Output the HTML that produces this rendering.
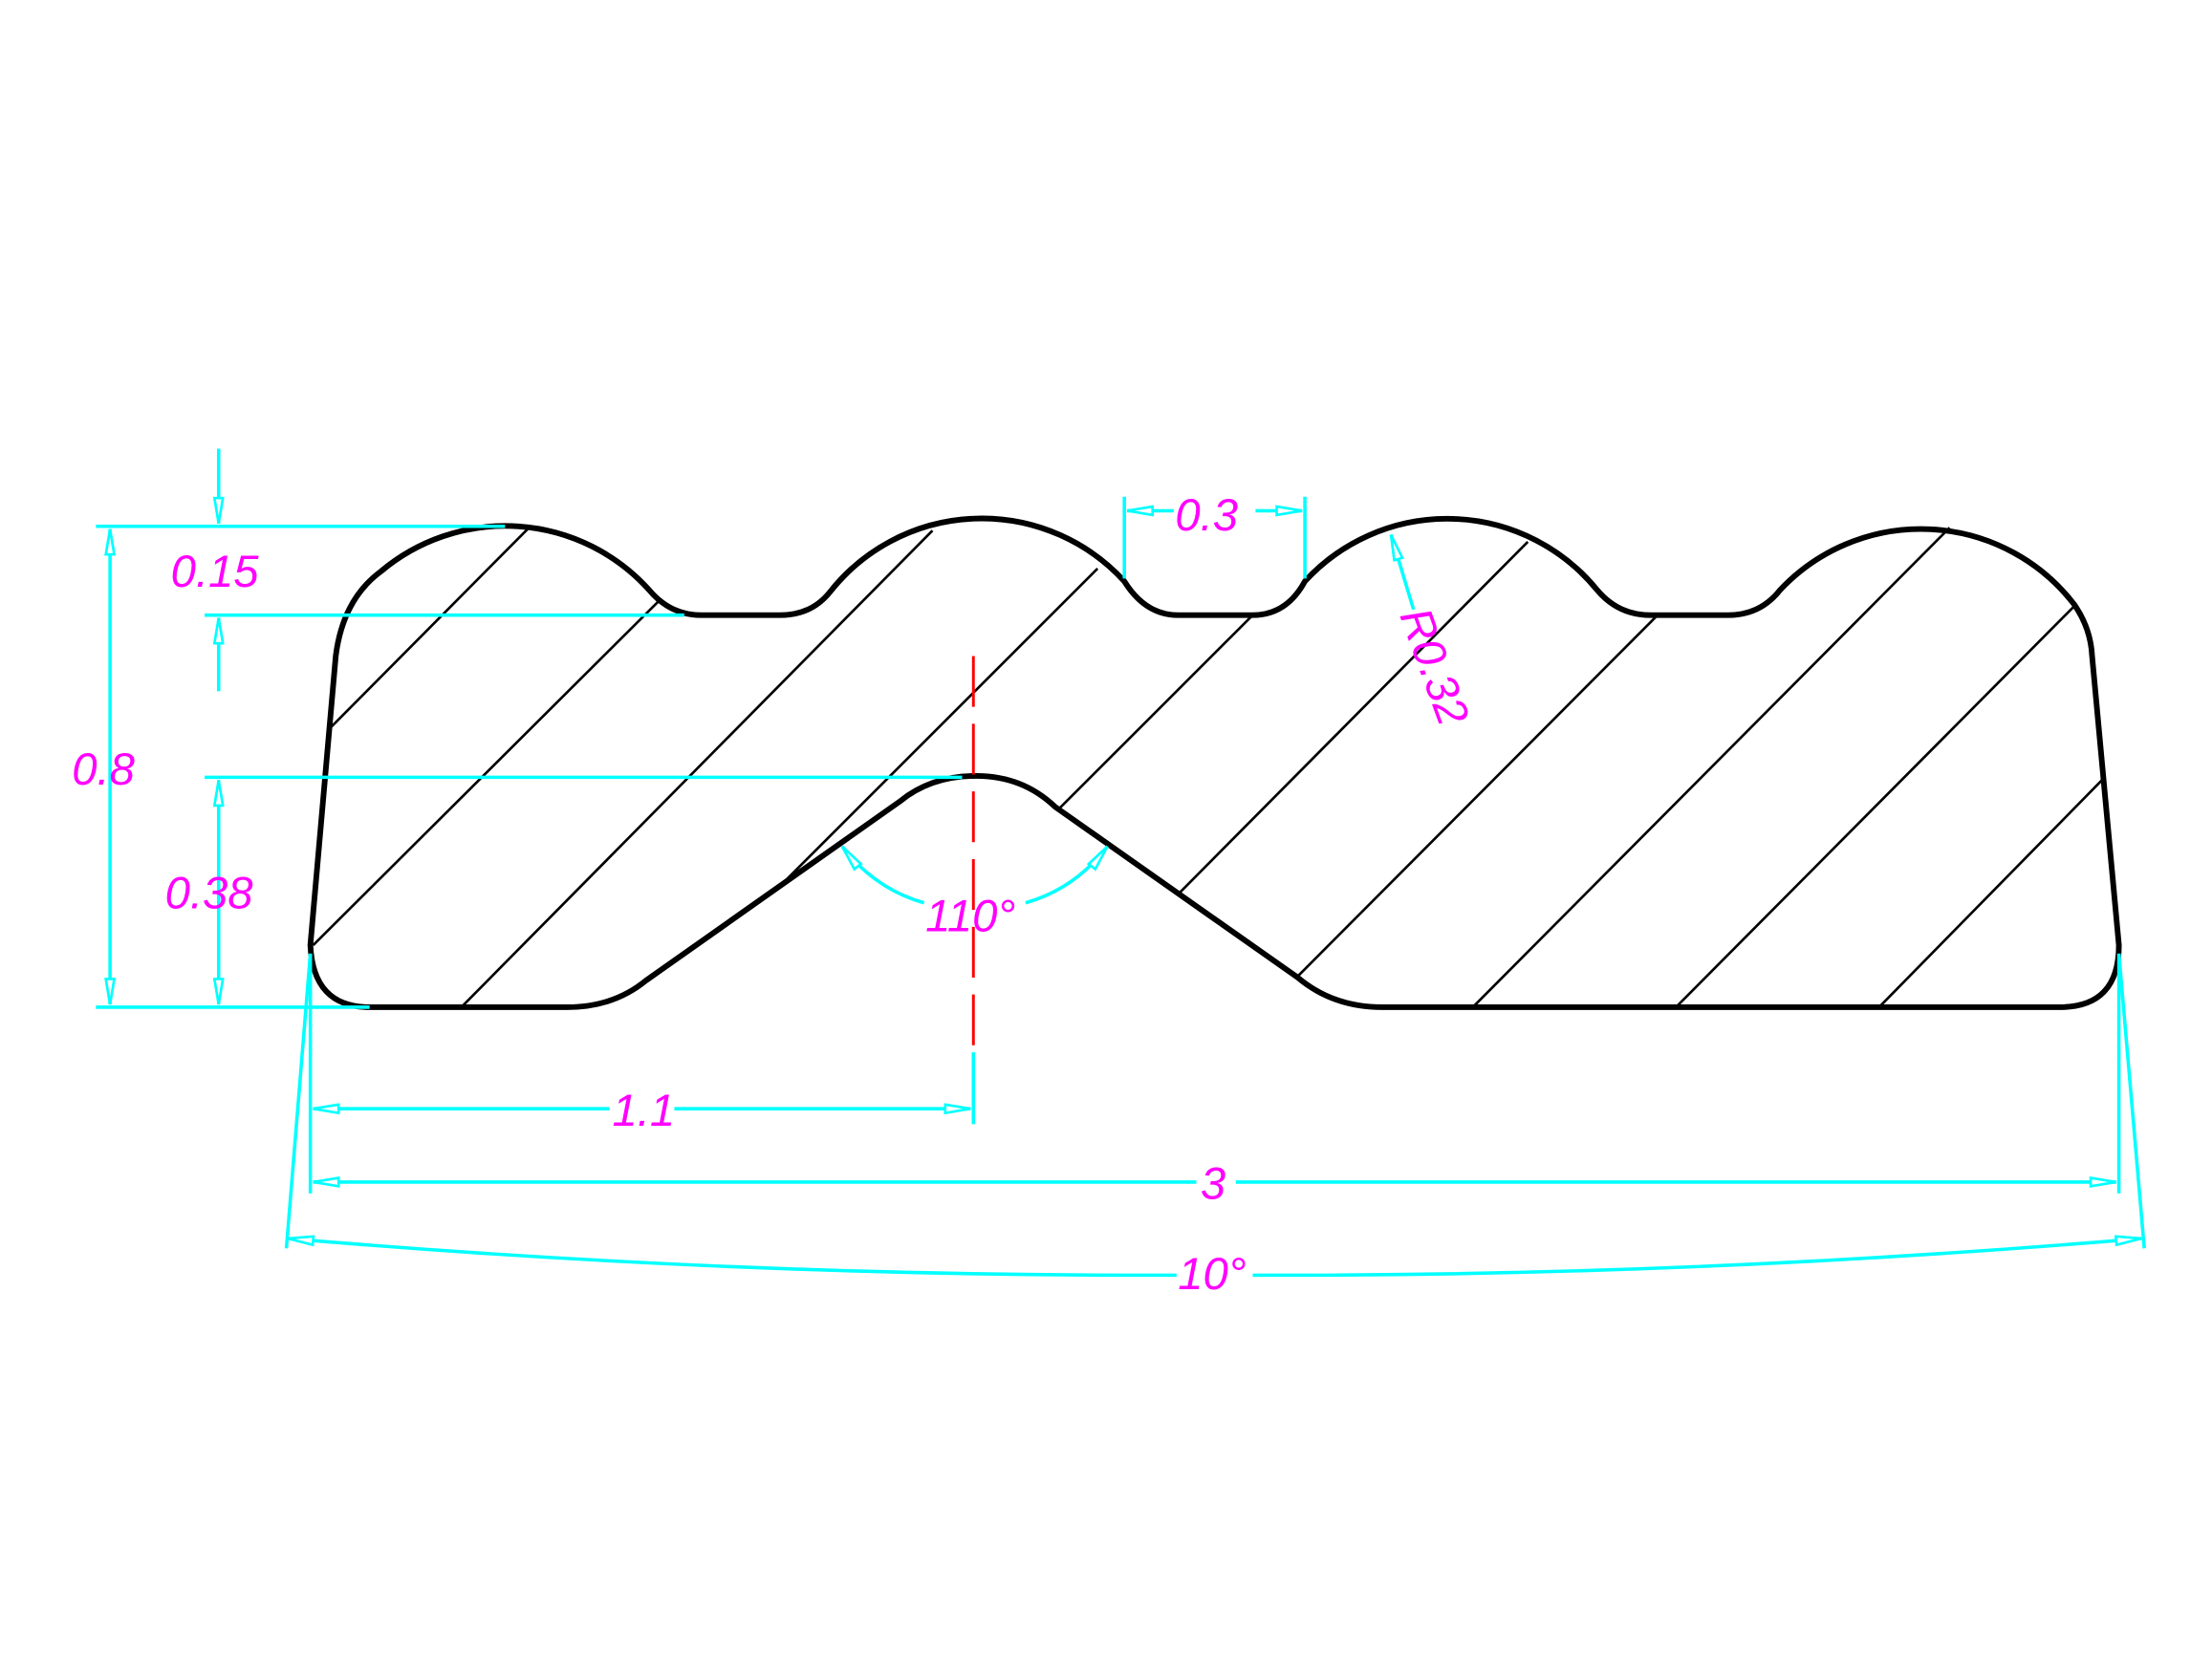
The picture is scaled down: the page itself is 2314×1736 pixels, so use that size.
<!DOCTYPE html>
<html><head><meta charset="utf-8"><style>html,body{margin:0;padding:0;background:#fff}svg{display:block}</style></head>
<body>
<svg width="2314" height="1736" viewBox="0 0 1568 1176" xmlns="http://www.w3.org/2000/svg">
<defs>
<marker id="a" viewBox="0 0 20 8" refX="19" refY="4" markerWidth="20" markerHeight="8" markerUnits="userSpaceOnUse" orient="auto-start-reverse">
<path d="M19,4 L1,1 L1,7 Z" fill="#fff" stroke="#0ff" stroke-width="1.8"/>
</marker>
</defs>
<g fill="none" stroke="#000" stroke-width="1.8">
<line x1="375" y1="374" x2="235" y2="515"/>
<line x1="467" y1="426" x2="222" y2="670"/>
<line x1="661" y1="376" x2="327" y2="714"/>
<line x1="778" y1="403" x2="555" y2="626"/>
<line x1="888" y1="436" x2="750" y2="574"/>
<line x1="1083" y1="384" x2="836" y2="633"/>
<line x1="1175" y1="436" x2="920" y2="692"/>
<line x1="1382" y1="374" x2="1044" y2="714"/>
<line x1="1472" y1="428" x2="1188" y2="714"/>
<line x1="1490" y1="553" x2="1332" y2="714"/>
</g>
<path fill="none" stroke="#000" stroke-width="4" stroke-linejoin="round"
d="M220,670 L238,465 Q243,425 270,405 A137,137 0 0 1 460,418 Q475,436 497,436 L553,436 Q575,436 588,420 A137,137 0 0 1 797,412 Q812,436 835,436 L888,436 Q912,436 925,412 A137,137 0 0 1 1132,418 Q1147,436 1170,436 L1225,436 Q1248,436 1262,418 A137,137 0 0 1 1470,428 Q1482,445 1483,465 L1502,670 Q1502,714 1460,714 L980,714 Q945,714 920,693 L748,572 Q725,550 692,550 Q660,550 638,568 L458,695 Q435,714 402,714 L262,714 Q222,714 220,670 Z"/>
<line x1="690" y1="465" x2="690" y2="742" stroke="#f00" stroke-width="2" stroke-dasharray="36,12"/>
<g stroke="#0ff" stroke-width="2.4" fill="none">
<line x1="68" y1="373" x2="358" y2="373"/>
<line x1="68" y1="714" x2="262" y2="714"/>
<line x1="78" y1="375" x2="78" y2="712" marker-start="url(#a)" marker-end="url(#a)"/>
<line x1="145" y1="436" x2="485" y2="436"/>
<line x1="155" y1="318" x2="155" y2="371" marker-end="url(#a)"/>
<line x1="155" y1="490" x2="155" y2="438" marker-end="url(#a)"/>
<line x1="145" y1="551" x2="682" y2="551"/>
<line x1="155" y1="553" x2="155" y2="712" marker-start="url(#a)" marker-end="url(#a)"/>
<line x1="220" y1="676" x2="220" y2="846"/>
<line x1="690" y1="746" x2="690" y2="797"/>
<line x1="222" y1="786" x2="432" y2="786" marker-start="url(#a)"/>
<line x1="478" y1="786" x2="688" y2="786" marker-end="url(#a)"/>
<line x1="1502" y1="676" x2="1502" y2="846"/>
<line x1="222" y1="838" x2="848" y2="838" marker-start="url(#a)"/>
<line x1="876" y1="838" x2="1500" y2="838" marker-end="url(#a)"/>
<line x1="220" y1="676" x2="203" y2="885"/>
<line x1="1502" y1="676" x2="1520" y2="885"/>
<path d="M204,878 Q520,905 834,904" marker-start="url(#a)"/>
<path d="M888,904 Q1200,905 1518,878" marker-end="url(#a)"/>
<line x1="797" y1="352" x2="797" y2="410"/>
<line x1="925" y1="352" x2="925" y2="410"/>
<line x1="799" y1="362" x2="832" y2="362" marker-start="url(#a)"/>
<line x1="890" y1="362" x2="923" y2="362" marker-end="url(#a)"/>
<line x1="986" y1="379" x2="1002" y2="432" marker-start="url(#a)"/>
<path d="M597,600 Q620,630 655,640" marker-start="url(#a)"/>
<path d="M785,600 Q762,630 727,640" marker-start="url(#a)"/>
</g>
<g fill="#f0f" font-family="Liberation Sans, sans-serif" font-style="italic" font-size="32">
<text x="121" y="416">0.15</text>
<text x="51" y="556">0.8</text>
<text x="117" y="644">0.38</text>
<text x="434" y="798">1.1</text>
<text x="851" y="850">3</text>
<text x="835" y="914">10°</text>
<text x="833" y="376">0.3</text>
<text x="656" y="660">110°</text>
<text x="0" y="0" transform="translate(992,436) rotate(70)">R0.32</text>
</g>
</svg>
</body></html>
